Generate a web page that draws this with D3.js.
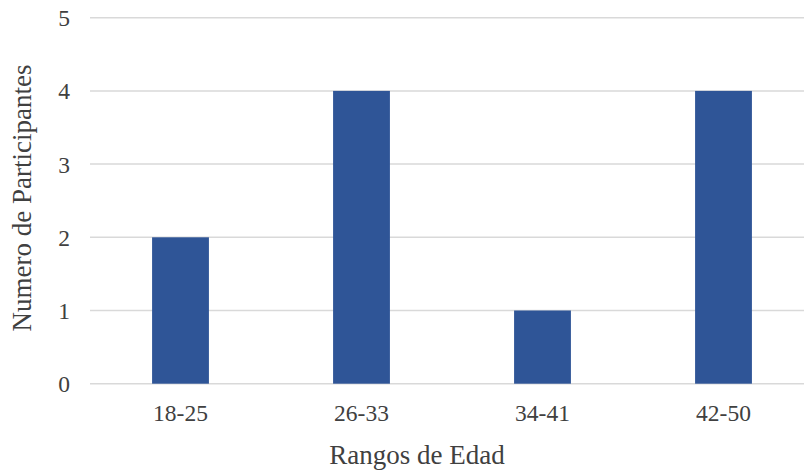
<!DOCTYPE html>
<html>
<head>
<meta charset="utf-8">
<script src="https://cdn.jsdelivr.net/npm/d3@7"></script>
<style>
  html, body { margin: 0; padding: 0; background: #fff; }
  svg { display: block; }
  svg text { font-family: "Liberation Serif", "Times New Roman", serif; }
</style>
</head>
<body>
<svg id="chart" width="804" height="470"></svg>
<script>
// Age ranges and participant counts
const categories = ["18-25", "26-33", "34-41", "42-50"];
const counts = [2, 4, 1, 4];
const yTicks = [0, 1, 2, 3, 4, 5];
const xTitle = "Rangos de Edad";
const yTitle = "Numero de Participantes";

const svg = d3.select("#chart");
const W = 804, H = 470;
const plotLeft = 90, plotRight = 814, plotTop = 17.7, plotBottom = 383.7;
const font = "Liberation Serif, Times New Roman, serif";
const textColor = "#404040";

const x = d3.scaleBand().domain(categories).range([plotLeft, plotRight]).paddingInner(0.686).paddingOuter(0.343);
const y = d3.scaleLinear().domain([0, 5]).range([plotBottom, plotTop]);

// horizontal gridlines
svg.append("g").selectAll("line").data(yTicks).join("line")
  .attr("x1", plotLeft).attr("x2", W)
  .attr("y1", d => y(d)).attr("y2", d => y(d))
  .attr("stroke", "#d9d9d9").attr("stroke-width", 1.5);

// bars
svg.append("g").selectAll("rect").data(counts).join("rect")
  .attr("x", (d, i) => x(categories[i]))
  .attr("width", x.bandwidth())
  .attr("y", d => y(d))
  .attr("height", d => y(0) - y(d))
  .attr("fill", "#2f5597");

// y axis labels
const yAxis = d3.axisLeft(y).tickValues(yTicks).tickSize(0).tickPadding(0).tickFormat(d3.format("d"));
const yg = svg.append("g").attr("transform", `translate(70,0)`).call(yAxis)
  .attr("font-family", null);
yg.select(".domain").remove();
yg.selectAll("text").style("font-family", font).style("font-size", "23.5px").attr("fill", textColor).attr("dy", "0.34em");

// x axis labels
const xAxis = d3.axisBottom(x).tickSize(0).tickPadding(0);
const xg = svg.append("g").attr("transform", `translate(0,${plotBottom})`).call(xAxis)
  .attr("font-family", null);
xg.select(".domain").remove();
xg.selectAll("text").style("font-family", font).style("font-size", "23.5px").attr("fill", textColor)
  .attr("dy", null).attr("y", 37);

// axis titles
svg.append("text").attr("x", 417).attr("y", 464)
  .attr("text-anchor", "middle").style("font-family", font).style("font-size", "27px")
  .attr("fill", textColor).text(xTitle);

svg.append("text").attr("transform", "translate(31,198) rotate(-90)")
  .attr("text-anchor", "middle").style("font-family", font).style("font-size", "27px")
  .attr("fill", textColor).text(yTitle);
</script>
</body>
</html>
